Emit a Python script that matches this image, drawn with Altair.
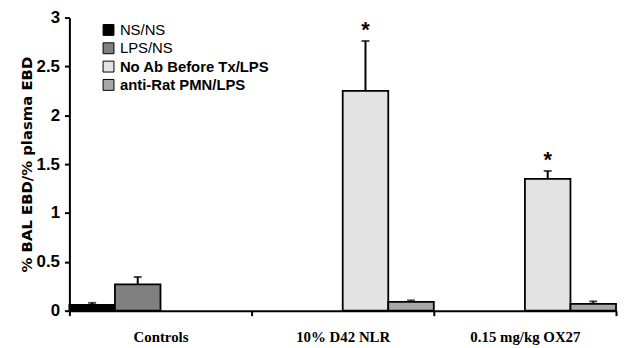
import altair as alt
import pandas as pd

groups = ["Controls", "10% D42 NLR", "0.15 mg/kg OX27"]
treatments = ["NS/NS", "LPS/NS", "No Ab Before Tx/LPS", "anti-Rat PMN/LPS"]
fill_colors = ["#000000", "#808080", "#e3e3e3", "#a8a8a8"]

bar_group = ["Controls", "Controls", "10% D42 NLR", "10% D42 NLR",
             "0.15 mg/kg OX27", "0.15 mg/kg OX27"]
bar_treat = ["NS/NS", "LPS/NS", "No Ab Before Tx/LPS", "anti-Rat PMN/LPS",
             "No Ab Before Tx/LPS", "anti-Rat PMN/LPS"]
means = [0.06, 0.27, 2.25, 0.09, 1.35, 0.07]
errors = [0.02, 0.075, 0.51, 0.015, 0.08, 0.025]
stars = ["", "", "*", "", "*", ""]

df = pd.DataFrame({
    "group": bar_group,
    "treatment": bar_treat,
    "mean": means,
    "err": errors,
    "star": stars,
})
df["hi"] = df["mean"] + df["err"]

x_enc = alt.X("group:N", sort=groups,
              scale=alt.Scale(domain=groups, paddingInner=0, paddingOuter=0),
              axis=alt.Axis(title=None, labelAngle=0, labelFont="Liberation Serif",
                            labelFontSize=15, labelFontWeight="bold", labelColor="black",
                            labelPadding=14, tickBand="extent", tickSize=5))
xo_enc = alt.XOffset("treatment:N", sort=treatments,
                     scale=alt.Scale(domain=treatments, paddingInner=0, paddingOuter=0))

base = alt.Chart(df)

bars = base.mark_bar(stroke="black", strokeWidth=1.8).encode(
    x=x_enc,
    xOffset=xo_enc,
    y=alt.Y("mean:Q", scale=alt.Scale(domain=[0, 3]),
            axis=alt.Axis(title="% BAL EBD/% plasma EBD", values=[0, 0.5, 1, 1.5, 2, 2.5, 3],
                          format="~g", labelFont="Liberation Sans", labelFontSize=17,
                          labelFontWeight="bold", labelColor="black", labelPadding=5,
                          titleFont="DejaVu Sans", titleFontSize=15,
                          titleFontWeight="bold", titleColor="black", titleX=-35,
                          tickSize=5)),
    color=alt.Color("treatment:N", sort=treatments,
                    scale=alt.Scale(domain=treatments, range=fill_colors),
                    legend=alt.Legend(orient="none", legendX=32, legendY=5, title=None,
                                      symbolType="square", symbolSize=121,
                                      symbolStrokeColor="black", symbolStrokeWidth=1,
                                      labelFont="Liberation Sans", labelFontSize=15,
                                      labelColor="black",
                                      labelFontWeight=alt.ExprRef(
                                          "datum.value == 'NS/NS' || datum.value == 'LPS/NS' ? 'normal' : 'bold'"),
                                      rowPadding=2.5, padding=0, labelOffset=4)),
)

err_rule = base.mark_rule(strokeWidth=2, color="black").encode(
    x=alt.X("group:N", sort=groups), xOffset=alt.XOffset("treatment:N", sort=treatments),
    y="mean:Q", y2="hi:Q")

err_cap = base.mark_tick(thickness=2, size=8, color="black", orient="horizontal").encode(
    x=alt.X("group:N", sort=groups), xOffset=alt.XOffset("treatment:N", sort=treatments),
    y="hi:Q")

star_txt = base.transform_filter("datum.star != ''").mark_text(
    fontSize=22, fontWeight="bold", font="Liberation Sans", baseline="bottom", dy=1,
    color="black").encode(
    x=alt.X("group:N", sort=groups), xOffset=alt.XOffset("treatment:N", sort=treatments),
    y="hi:Q", text="star:N")

chart = alt.layer(bars, err_rule, err_cap, star_txt).properties(
    width=552, height=296,
    padding={"left": 62, "top": 8, "right": 2, "bottom": 34},
    autosize=alt.AutoSizeParams(type="none"),
    background="white",
).configure_view(stroke=None).configure_axis(
    grid=False, domainColor="black", domainWidth=2, tickColor="black", tickWidth=2,
)

chart.save("out.html", embed_options={"renderer": "svg", "actions": False})
